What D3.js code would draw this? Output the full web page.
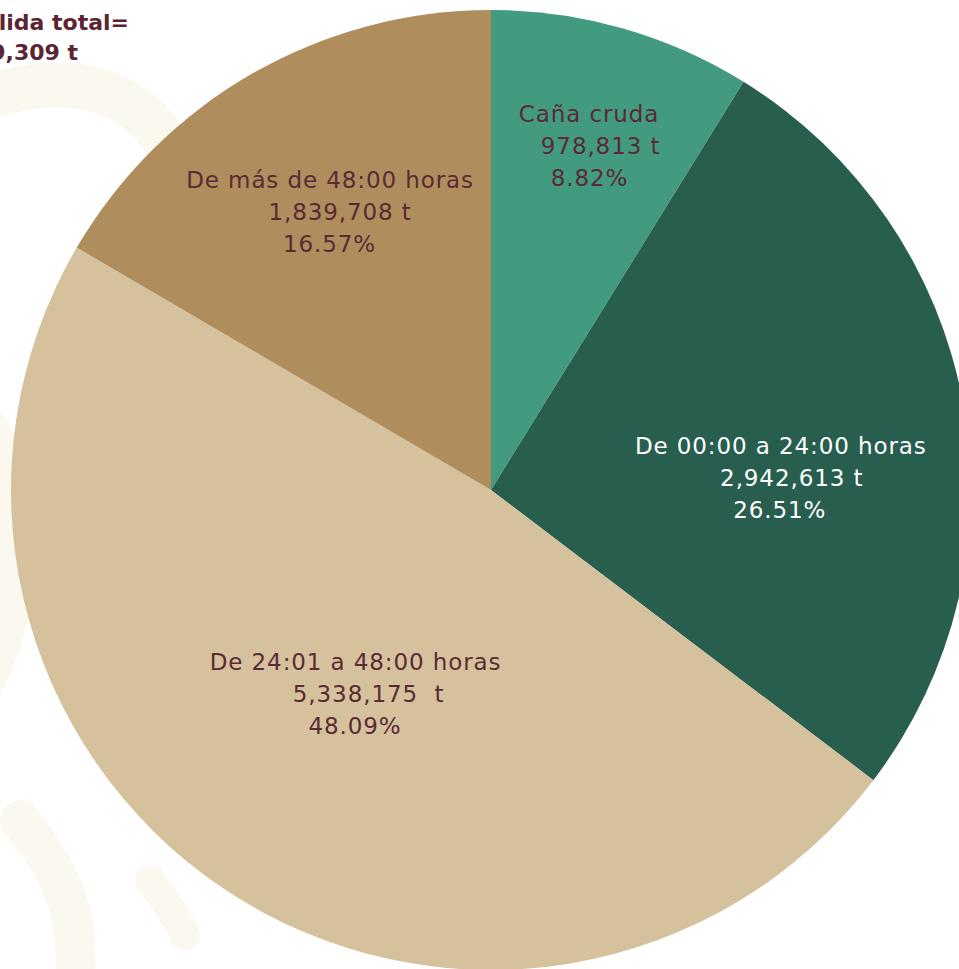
<!DOCTYPE html>
<html>
<head>
<meta charset="utf-8">
<script src="https://cdn.jsdelivr.net/npm/d3@7"></script>
<style>
  html, body { margin: 0; padding: 0; background: #fff; overflow: hidden; }
  svg { display: block; }
  .lbl { font-family: "DejaVu Sans", sans-serif; font-size: 23px; letter-spacing: 0.9px; }
  .title { font-family: "DejaVu Sans", sans-serif; font-weight: bold; font-size: 22px; fill: #5a2433; }
</style>
</head>
<body>
<div id="chart"></div>
<script>
// data
var categories = ["Caña cruda", "De 00:00 a 24:00 horas", "De 24:01 a 48:00 horas", "De más de 48:00 horas"];
var tons = [978813, 2942613, 5338175, 1839708];
var percents = ["8.82%", "26.51%", "48.09%", "16.57%"];
var tonLabels = ["978,813 t", "2,942,613 t", "5,338,175  t", "1,839,708 t"];
var titleLines = ["Caña molida total=", "11,099,309 t"];

var colors = ["#429b81", "#275e4e", "#d5c29c", "#b08d5d"];
var textColors = ["#5a2a35", "#ffffff", "#5a2a35", "#5a2a35"];

// label placement: radius from center, turn from mid angle (deg), per line x shift
var labelR = [361, 301, 238, 316];
var labelTurn = [1.8, 8.2, -2.8, 1.3];
var lineShift = [[-11.5, 0, -11], [-11, 0, -12], [-13, 0, -13.5], [-10, 0, -10.5]];

var width = 959, height = 969;
var cx = 491, cy = 490, radius = 480;

var svg = d3.select("#chart").append("svg")
  .attr("width", width)
  .attr("height", height);

// very faint watermark on the left
var wm = svg.append("g").attr("fill", "none").attr("stroke", "#fbf8f0").attr("stroke-linecap", "round");
wm.append("path").attr("stroke-width", 45).attr("d", "M-40,110 C60,60 140,90 170,150");
wm.append("path").attr("stroke-width", 40).attr("d", "M-10,430 C30,520 20,620 -20,690");
wm.append("path").attr("stroke-width", 40).attr("d", "M20,820 C60,870 80,910 75,980");
wm.append("path").attr("stroke-width", 30).attr("d", "M150,880 C165,900 175,915 185,935");

var g = svg.append("g").attr("transform", `translate(${cx},${cy})`);

var pie = d3.pie().sort(null).value(d => d);
var arcs = pie(tons);

var arc = d3.arc().innerRadius(0).outerRadius(radius);

g.selectAll("path.slice")
  .data(arcs)
  .enter().append("path")
  .attr("class", "slice")
  .attr("d", arc)
  .attr("fill", (d, i) => colors[i]);

// labels
arcs.forEach(function(d, i) {
  var mid = (d.startAngle + d.endAngle) / 2 + labelTurn[i] * Math.PI / 180;
  var p = d3.pointRadial(mid, labelR[i]);
  var lines = [categories[i], tonLabels[i], percents[i]];
  var t = g.append("text")
    .attr("class", "lbl")
    .attr("text-anchor", "middle")
    .attr("fill", textColors[i]);
  lines.forEach(function(s, j) {
    t.append("tspan")
      .attr("x", p[0] + lineShift[i][j])
      .attr("y", p[1] + (j - 1) * 32)
      .attr("dy", "0.35em")
      .attr("xml:space", "preserve")
      .text(s);
  });
});

// title, cut off at the left edge as in the source slide
svg.append("text").attr("class", "title")
  .attr("text-anchor", "end")
  .selectAll("tspan")
  .data(titleLines)
  .enter().append("tspan")
  .attr("x", (d, i) => i === 0 ? 129 : 78)
  .attr("y", (d, i) => 22 + i * 30)
  .attr("dy", "0.35em")
  .text(d => d);
</script>
</body>
</html>
